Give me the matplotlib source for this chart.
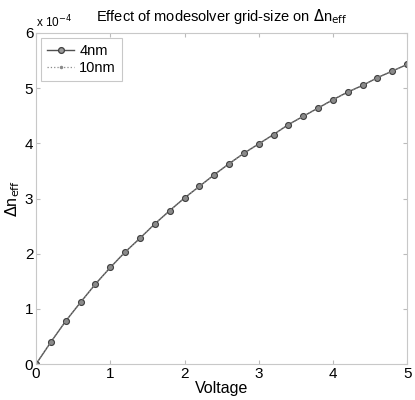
import matplotlib
matplotlib.use("Agg")
import matplotlib.pyplot as plt

plt.rcParams['font.family'] = ['Liberation Sans', 'DejaVu Sans']

# voltage sweep and effective index change (in units of 1e-4)
voltage = [0.0, 0.2, 0.4, 0.6, 0.8, 1.0, 1.2, 1.4, 1.6, 1.8, 2.0, 2.2, 2.4,
           2.6, 2.8, 3.0, 3.2, 3.4, 3.6, 3.8, 4.0, 4.2, 4.4, 4.6, 4.8, 5.0]
dn_4nm = [0.0, 0.40, 0.78, 1.12, 1.45, 1.75, 2.03, 2.28, 2.54, 2.78, 3.01,
          3.22, 3.43, 3.63, 3.82, 3.99, 4.16, 4.34, 4.49, 4.64, 4.79, 4.93,
          5.05, 5.19, 5.31, 5.43]
dn_10nm = [0.0, 0.40, 0.78, 1.12, 1.45, 1.75, 2.03, 2.28, 2.54, 2.78, 3.01,
           3.22, 3.43, 3.63, 3.82, 3.99, 4.16, 4.34, 4.49, 4.64, 4.79, 4.93,
           5.05, 5.19, 5.31, 5.43]

fig = plt.figure(figsize=(4.15, 4.0), dpi=100)
ax = fig.add_axes([0.087, 0.09, 0.894, 0.8275])

ax.plot(voltage, dn_4nm, '-o', color='#505050', lw=1.0, ms=4.2,
        mfc='#9a9a9a', mec='#404040', mew=0.9, label='4nm')
ax.plot(voltage, dn_10nm, ':', marker='.', color='#8a8a8a', lw=0.9, ms=3,
        label='10nm')

ax.set_xlim(0, 5)
ax.set_ylim(0, 6)
ax.set_xticks(range(6))
ax.set_yticks(range(7))
ax.tick_params(direction='in', length=3, labelsize=11, colors='#bbbbbb',
               labelcolor='black', top=True, right=True, pad=2)
for s in ax.spines.values():
    s.set_color('#c8c8c8')

ax.set_xlabel('Voltage', fontsize=11.5, labelpad=0)
ax.set_ylabel(r'$\Delta$n$_{\mathrm{eff}}$', fontsize=11.5, labelpad=2)
ax.set_title(r'Effect of modesolver grid-size on $\Delta$n$_{\mathrm{eff}}$',
             fontsize=10.5, pad=9)
ax.text(0.0, 1.008, r'x 10$^{-4}$', transform=ax.transAxes, fontsize=8.5,
        va='bottom', ha='left')

leg = ax.legend(loc='upper left', fontsize=10.5, handlelength=1.85,
                fancybox=False, borderpad=0.4, labelspacing=0.2,
                handletextpad=0.35, borderaxespad=0.35)
leg.get_frame().set_edgecolor('#bbbbbb')
leg.get_frame().set_linewidth(0.8)

fig.savefig('out.png', dpi=100)
